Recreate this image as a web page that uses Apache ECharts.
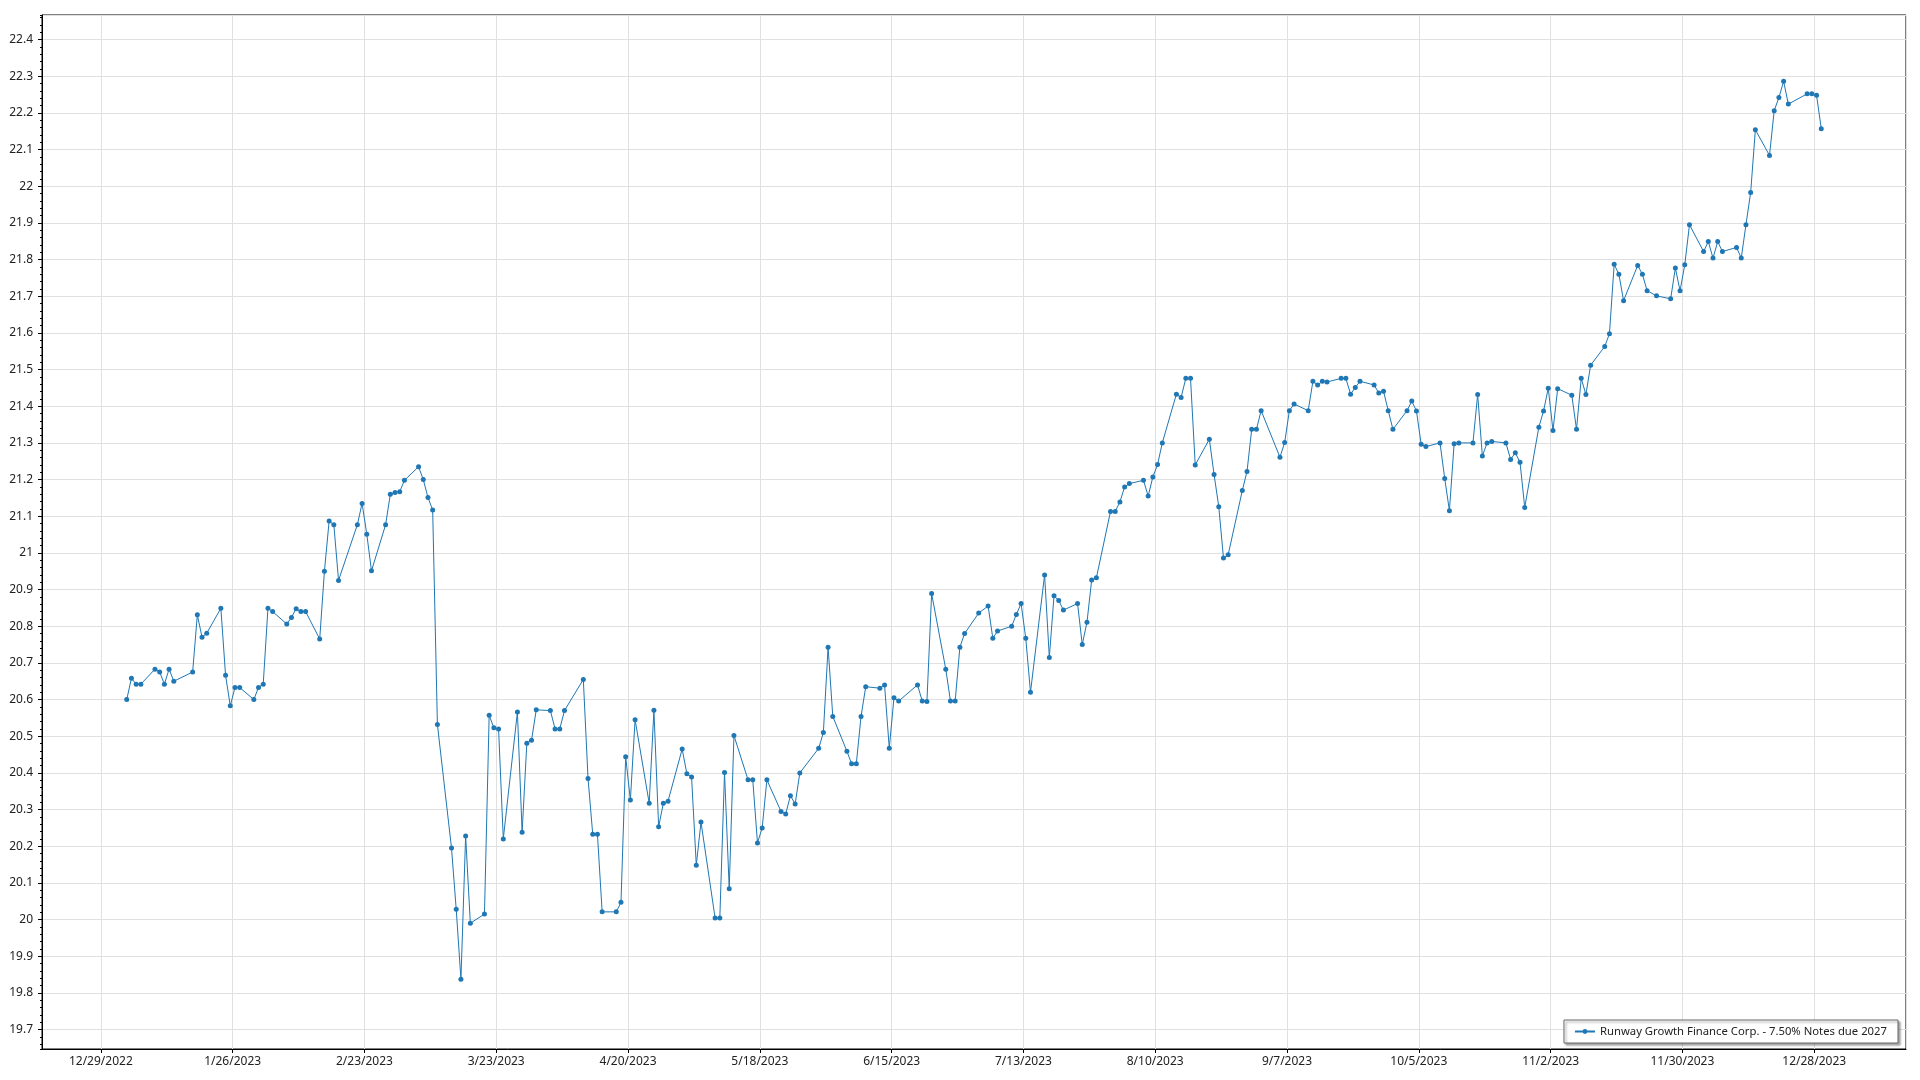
<!DOCTYPE html>
<html><head><meta charset="utf-8">
<script src="https://cdn.jsdelivr.net/npm/echarts@6/dist/echarts.min.js"></script>
<style>html,body{margin:0;padding:0;background:#fff}#c{width:1920px;height:1080px}</style>
</head><body><div id="c"></div>
<script>
const seriesName = 'Runway Growth Finance Corp. - 7.50% Notes due 2027';
const dates = [
'2023-01-03','2023-01-04','2023-01-05','2023-01-06','2023-01-09','2023-01-10','2023-01-11','2023-01-12','2023-01-13','2023-01-17',
'2023-01-18','2023-01-19','2023-01-20','2023-01-23','2023-01-24','2023-01-25','2023-01-26','2023-01-27','2023-01-30','2023-01-31',
'2023-02-01','2023-02-02','2023-02-03','2023-02-06','2023-02-07','2023-02-08','2023-02-09','2023-02-10','2023-02-13','2023-02-14',
'2023-02-15','2023-02-16','2023-02-17','2023-02-21','2023-02-22','2023-02-23','2023-02-24','2023-02-27','2023-02-28','2023-03-01',
'2023-03-02','2023-03-03','2023-03-06','2023-03-07','2023-03-08','2023-03-09','2023-03-10','2023-03-13','2023-03-14','2023-03-15',
'2023-03-16','2023-03-17','2023-03-20','2023-03-21','2023-03-22','2023-03-23','2023-03-24','2023-03-27','2023-03-28','2023-03-29',
'2023-03-30','2023-03-31','2023-04-03','2023-04-04','2023-04-05','2023-04-06','2023-04-10','2023-04-11','2023-04-12','2023-04-13',
'2023-04-14','2023-04-17','2023-04-18','2023-04-19','2023-04-20','2023-04-21','2023-04-24','2023-04-25','2023-04-26','2023-04-27',
'2023-04-28','2023-05-01','2023-05-02','2023-05-03','2023-05-04','2023-05-05','2023-05-08','2023-05-09','2023-05-10','2023-05-11',
'2023-05-12','2023-05-15','2023-05-16','2023-05-17','2023-05-18','2023-05-19','2023-05-22','2023-05-23','2023-05-24','2023-05-25',
'2023-05-26','2023-05-30','2023-05-31','2023-06-01','2023-06-02','2023-06-05','2023-06-06','2023-06-07','2023-06-08','2023-06-09',
'2023-06-12','2023-06-13','2023-06-14','2023-06-15','2023-06-16','2023-06-20','2023-06-21','2023-06-22','2023-06-23','2023-06-26',
'2023-06-27','2023-06-28','2023-06-29','2023-06-30','2023-07-03','2023-07-05','2023-07-06','2023-07-07','2023-07-10','2023-07-11',
'2023-07-12','2023-07-13','2023-07-14','2023-07-17','2023-07-18','2023-07-19','2023-07-20','2023-07-21','2023-07-24','2023-07-25',
'2023-07-26','2023-07-27','2023-07-28','2023-07-31','2023-08-01','2023-08-02','2023-08-03','2023-08-04','2023-08-07','2023-08-08',
'2023-08-09','2023-08-10','2023-08-11','2023-08-14','2023-08-15','2023-08-16','2023-08-17','2023-08-18','2023-08-21','2023-08-22',
'2023-08-23','2023-08-24','2023-08-25','2023-08-28','2023-08-29','2023-08-30','2023-08-31','2023-09-01','2023-09-05','2023-09-06',
'2023-09-07','2023-09-08','2023-09-11','2023-09-12','2023-09-13','2023-09-14','2023-09-15','2023-09-18','2023-09-19','2023-09-20',
'2023-09-21','2023-09-22','2023-09-25','2023-09-26','2023-09-27','2023-09-28','2023-09-29','2023-10-02','2023-10-03','2023-10-04',
'2023-10-05','2023-10-06','2023-10-09','2023-10-10','2023-10-11','2023-10-12','2023-10-13','2023-10-16','2023-10-17','2023-10-18',
'2023-10-19','2023-10-20','2023-10-23','2023-10-24','2023-10-25','2023-10-26','2023-10-27','2023-10-30','2023-10-31','2023-11-01',
'2023-11-02','2023-11-03','2023-11-06','2023-11-07','2023-11-08','2023-11-09','2023-11-10','2023-11-13','2023-11-14','2023-11-15',
'2023-11-16','2023-11-17','2023-11-20','2023-11-21','2023-11-22','2023-11-24','2023-11-27','2023-11-28','2023-11-29','2023-11-30',
'2023-12-01','2023-12-04','2023-12-05','2023-12-06','2023-12-07','2023-12-08','2023-12-11','2023-12-12','2023-12-13','2023-12-14',
'2023-12-15','2023-12-18','2023-12-19','2023-12-20','2023-12-21','2023-12-22','2023-12-26','2023-12-27','2023-12-28','2023-12-29'
];
const prices = [
20.600,20.658,20.642,20.642,20.683,20.675,20.642,20.683,20.650,20.675,
20.831,20.770,20.781,20.849,20.666,20.583,20.633,20.633,20.600,20.633,
20.642,20.849,20.840,20.806,20.824,20.848,20.840,20.840,20.765,20.950,
21.087,21.077,20.925,21.077,21.135,21.051,20.951,21.077,21.160,21.165,
21.167,21.198,21.235,21.200,21.151,21.117,20.532,20.195,20.028,19.837,
20.228,19.990,20.015,20.557,20.523,20.520,20.220,20.566,20.238,20.481,
20.489,20.572,20.570,20.520,20.520,20.570,20.655,20.385,20.233,20.233,
20.021,20.021,20.047,20.444,20.326,20.545,20.317,20.571,20.253,20.317,
20.323,20.465,20.398,20.389,20.148,20.266,20.004,20.004,20.401,20.084,
20.502,20.381,20.381,20.209,20.250,20.381,20.295,20.288,20.338,20.315,
20.400,20.467,20.510,20.743,20.554,20.459,20.425,20.425,20.554,20.635,
20.631,20.640,20.467,20.605,20.596,20.640,20.596,20.595,20.889,20.683,
20.596,20.596,20.743,20.780,20.836,20.855,20.767,20.787,20.800,20.832,
20.862,20.767,20.620,20.940,20.715,20.883,20.870,20.844,20.862,20.750,
20.811,20.926,20.932,21.113,21.113,21.139,21.180,21.189,21.198,21.155,
21.207,21.241,21.300,21.433,21.424,21.476,21.476,21.240,21.310,21.214,
21.126,20.986,20.995,21.170,21.222,21.337,21.337,21.388,21.261,21.301,
21.388,21.406,21.388,21.468,21.458,21.468,21.466,21.476,21.476,21.433,
21.451,21.468,21.458,21.436,21.441,21.388,21.337,21.388,21.414,21.387,
21.296,21.290,21.300,21.203,21.115,21.298,21.300,21.300,21.432,21.264,
21.300,21.304,21.300,21.255,21.273,21.247,21.124,21.343,21.387,21.449,
21.334,21.448,21.430,21.337,21.476,21.432,21.512,21.563,21.598,21.787,
21.760,21.688,21.784,21.760,21.715,21.701,21.693,21.777,21.715,21.786,
21.895,21.822,21.849,21.804,21.849,21.822,21.833,21.804,21.895,21.983,
22.154,22.084,22.206,22.242,22.286,22.224,22.252,22.252,22.248,22.157
];
const xTickLabels = ['12/29/2022','1/26/2023','2/23/2023','3/23/2023','4/20/2023','5/18/2023','6/15/2023',
  '7/13/2023','8/10/2023','9/7/2023','10/5/2023','11/2/2023','11/30/2023','12/28/2023'];
const axisOriginDate = '2022-12-29';
const xTickStepDays = 28;
const yRange = [19.647, 22.467];
const xRangeDays = [-12.5, 383.5];

const DAY = 86400000;
const origin = Date.parse(axisOriginDate + 'T00:00:00Z');
function dayOf(s) { return (Date.parse(s + 'T00:00:00Z') - origin) / DAY + 0.5; }
const seriesData = dates.map((d, i) => [dayOf(d), prices[i]]);

const FONT = 'Noto Sans';
const chart = echarts.init(document.getElementById('c'), null, {renderer: 'canvas'});
chart.setOption({
  animation: false,
  backgroundColor: '#ffffff',
  textStyle: {fontFamily: FONT},
  grid: {left: 42, right: 14, top: 15, bottom: 31, show: true, borderColor: '#000', borderWidth: 1, backgroundColor: 'transparent'},
  legend: {
    right: 22, bottom: 37, padding: [6, 11, 6, 10], itemWidth: 20, itemHeight: 6,
    backgroundColor: '#fff', borderColor: '#666', borderWidth: 1,
    shadowColor: 'rgba(0,0,0,0.35)', shadowBlur: 2, shadowOffsetX: 2, shadowOffsetY: 2,
    textStyle: {fontSize: 11.3, color: '#222', fontFamily: FONT},
    data: [seriesName]
  },
  xAxis: {
    type: 'value', min: xRangeDays[0], max: xRangeDays[1], minInterval: xTickStepDays, maxInterval: xTickStepDays,
    axisLine: {show: true, onZero: false, lineStyle: {color: '#000', width: 1}},
    axisTick: {show: true, length: 4, lineStyle: {color: '#000'}},
    axisLabel: {
      show: true, margin: 7, fontSize: 12, color: '#222', fontFamily: FONT, interval: 0,
      showMinLabel: false, showMaxLabel: false,
      formatter: function (v) {
        const k = v / xTickStepDays;
        if (Math.abs(k - Math.round(k)) > 1e-6) return '';
        return xTickLabels[Math.round(k)] || '';
      }
    },
    splitLine: {show: true, lineStyle: {color: '#e0e0e0', width: 1}}
  },
  yAxis: [{
    type: 'value', position: 'left', min: yRange[0], max: yRange[1], minInterval: 0.1, maxInterval: 0.1,
    axisLine: {show: true, onZero: false, lineStyle: {color: '#000', width: 1}},
    axisTick: {show: true, length: 4, lineStyle: {color: '#000'}},
    axisLabel: {show: true, margin: 9, fontSize: 12, color: '#222', fontFamily: FONT, interval: 0,
      showMinLabel: false, showMaxLabel: false},
    splitLine: {show: true, lineStyle: {color: '#e0e0e0', width: 1}}
  }, {
    type: 'value', position: 'left', min: yRange[0], max: yRange[1], minInterval: 0.02, maxInterval: 0.02,
    axisLine: {show: false, onZero: false},
    axisTick: {show: true, length: 2, lineStyle: {color: '#000'}},
    axisLabel: {show: false},
    splitLine: {show: false}
  }],
  series: [{
    name: seriesName, type: 'line', yAxisIndex: 0, data: seriesData,
    symbol: 'circle', symbolSize: 5, showSymbol: true,
    lineStyle: {width: 1, color: '#1f77b4'},
    itemStyle: {color: '#1f77b4'},
    emphasis: {disabled: true}
  }]
});
</script></body></html>
